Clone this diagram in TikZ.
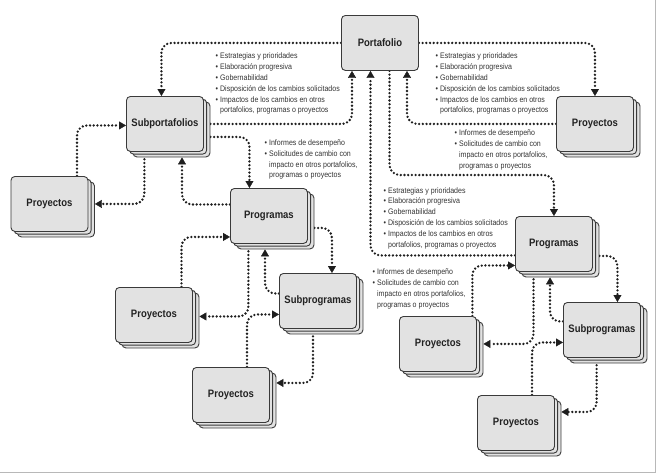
\documentclass[tikz,border=0pt]{standalone}
\usepackage{fontspec}
\setmainfont{Liberation Sans}[FakeStretch=0.88]
\usetikzlibrary{calc,arrows.meta}
\pgfdeclarelayer{background}
\pgfsetlayers{background,main}
\definecolor{boxfill}{HTML}{E2E2E2}
\definecolor{boxline}{HTML}{3A3A3A}
\definecolor{conc}{HTML}{1E1E1E}
\definecolor{notec}{HTML}{333333}
\definecolor{labc}{HTML}{222222}
\definecolor{framec}{HTML}{B8B8B8}
\newcommand{\bl}{\textbullet\ }
\newcommand{\ind}{\phantom{\textbullet\ }}
\tikzset{
  layerbox/.style={draw=boxline, fill=boxfill, line width=0.9pt, rounded corners=4pt,
    minimum width=77pt, minimum height=55pt, anchor=north west, inner sep=0pt},
  mainbox/.style={layerbox, text=labc, font=\bfseries\fontsize{10.8}{12}\selectfont},
  note/.style={inner sep=0pt, anchor=base west, text=notec, font=\fontsize{8}{10.8}\selectfont},
  con/.style={draw=conc, line width=2.6pt, dash pattern=on 0pt off 3.7pt, line cap=round,
    rounded corners=10pt},
  tip/.style={-{Triangle[length=7pt,width=8pt,line width=0.4pt]}},
}
\newcommand{\pstack}[4]{%
  \node[layerbox] (#1b) at (#2+6.5,#3+5.5) {};
  \node[layerbox] (#1m) at (#2+3.2,#3+2.7) {};
  \node[mainbox] (#1) at (#2,#3) {#4};
}
\newcommand{\notes}[3]{\node[note] (#1) at (#2) {\begin{tabular}[t]{@{}l@{}}#3\end{tabular}};}
\begin{document}
\begin{tikzpicture}[x=1pt,y=-1pt]
\useasboundingbox (0,0) rectangle (658,474);
\draw[framec, line width=0.8pt] (655.5,0) -- (655.5,472.5) -- (0,472.5);

% boxes
\node[mainbox] (P) at (341,15) {Portafolio};
\pstack{S}{126}{96}{Subportafolios}
\pstack{LA}{10.5}{176}{Proyectos}
\pstack{GA}{230}{188}{Programas}
\pstack{LB}{115}{287}{Proyectos}
\pstack{UA}{279}{273}{Subprogramas}
\pstack{LC}{192}{367}{Proyectos}
\pstack{RA}{556}{96}{Proyectos}
\pstack{GB}{515}{216}{Programas}
\pstack{UB}{563}{302}{Subprogramas}
\pstack{RB}{399}{316}{Proyectos}
\pstack{RC}{477}{395}{Proyectos}

% notes
\notes{na}{215.5,58.8}{\bl Estrategias y prioridades\\ \bl Elaboración progresiva\\ \bl Gobernabilidad\\ \bl Disposición de los cambios solicitados\\ \bl Impactos de los cambios en otros\\ \ind portafolios, programas o proyectos}
\notes{nb}{435.5,58.8}{\bl Estrategias y prioridades\\ \bl Elaboración progresiva\\ \bl Gobernabilidad\\ \bl Disposición de los cambios solicitados\\ \bl Impactos de los cambios en otros\\ \ind portafolios, programas o proyectos}
\notes{ne}{383.5,193.1}{\bl Estrategias y prioridades\\ \bl Elaboración progresiva\\ \bl Gobernabilidad\\ \bl Disposición de los cambios solicitados\\ \bl Impactos de los cambios en otros\\ \ind portafolios, programas o proyectos}
\notes{nc}{264.5,145.5}{\bl Informes de desempeño\\ \bl Solicitudes de cambio con\\ \ind impacto en otros portafolios,\\ \ind programas o proyectos}
\notes{nd}{454.5,135.8}{\bl Informes de desempeño\\ \bl Solicitudes de cambio con\\ \ind impacto en otros portafolios,\\ \ind programas o proyectos}
\notes{nf}{372.5,274.8}{\bl Informes de desempeño\\ \bl Solicitudes de cambio con\\ \ind impacto en otros portafolios,\\ \ind programas o proyectos}

% connectors
\begin{pgfonlayer}{background}
\draw[con,tip] (P.west) -| ($(S.north)+(-3.5,0)$);
\draw[con,tip] (S.east -| Sb.east) -| ($(P.south west)+(11,0)$);
\draw[con,tip] (P.east) -| (RA.north);
\draw[con,tip] (RA.west) -| ($(P.south west)+(66,0)$);
\draw[con,tip] ($(P.south west)+(48.5,0)$) |- ($(GB.north)+(0,-41)$) -- (GB.north);
\draw[con,tip] ($(GB.west)+(0,11.5)$) -| ($(P.south west)+(29.5,0)$);
\draw[con,tip] ($(LA.north west)+(66.5,0)$) |- ($(S.west)+(0,1.5)$);
\draw[con,tip] ($(S.south west)+(18.4,0)$) |- (LA.east -| LAb.east);
\draw[con,tip] ($(S.east -| Sb.east)+(0,13)$) -| ($(GA.north)+(-19.5,0)$);
\draw[con,tip] ($(GA.west)+(0,-11.5)$) -| ($(Sb.south west)+(49.5,0)$);
\draw[con,tip] ($(LB.north west)+(66.5,0)$) |- ($(GA.west)+(0,21)$);
\draw[con,tip] ($(GA.south west)+(18.4,0)$) |- ($(LB.east -| LBb.east)+(0,1.5)$);
\draw[con,tip] ($(GA.east -| GAb.east)+(0,12)$) -| ($(UA.north)+(14,0)$);
\draw[con,tip] ($(UA.west)+(0,-7.5)$) -| ($(GAb.south west)+(28.5,0)$);
\draw[con,tip] ($(LC.north west)+(55,0)$) |- ($(UA.west)+(0,13.5)$);
\draw[con,tip] ($(UA.south west)+(34,0)$) |- ($(LC.east -| LCb.east)+(0,-12)$);
\draw[con,tip] ($(RB.north west)+(73.4,0)$) |- ($(GB.west)+(0,21.5)$);
\draw[con,tip] ($(GB.south west)+(18.5,0)$) |- (RB.east -| RBb.east);
\draw[con,tip] ($(GB.east -| GBb.east)+(0,12)$) -| ($(UB.north)+(15.5,0)$);
\draw[con,tip] ($(UB.west)+(0,-8.5)$) -| ($(GBb.south west)+(28.5,0)$);
\draw[con,tip] ($(RC.north west)+(55,0)$) |- ($(UB.west)+(0,12.5)$);
\draw[con,tip] ($(UB.south west)+(33.6,0)$) |- ($(RC.east -| RCb.east)+(0,-11)$);
\end{pgfonlayer}
\end{tikzpicture}
\end{document}
